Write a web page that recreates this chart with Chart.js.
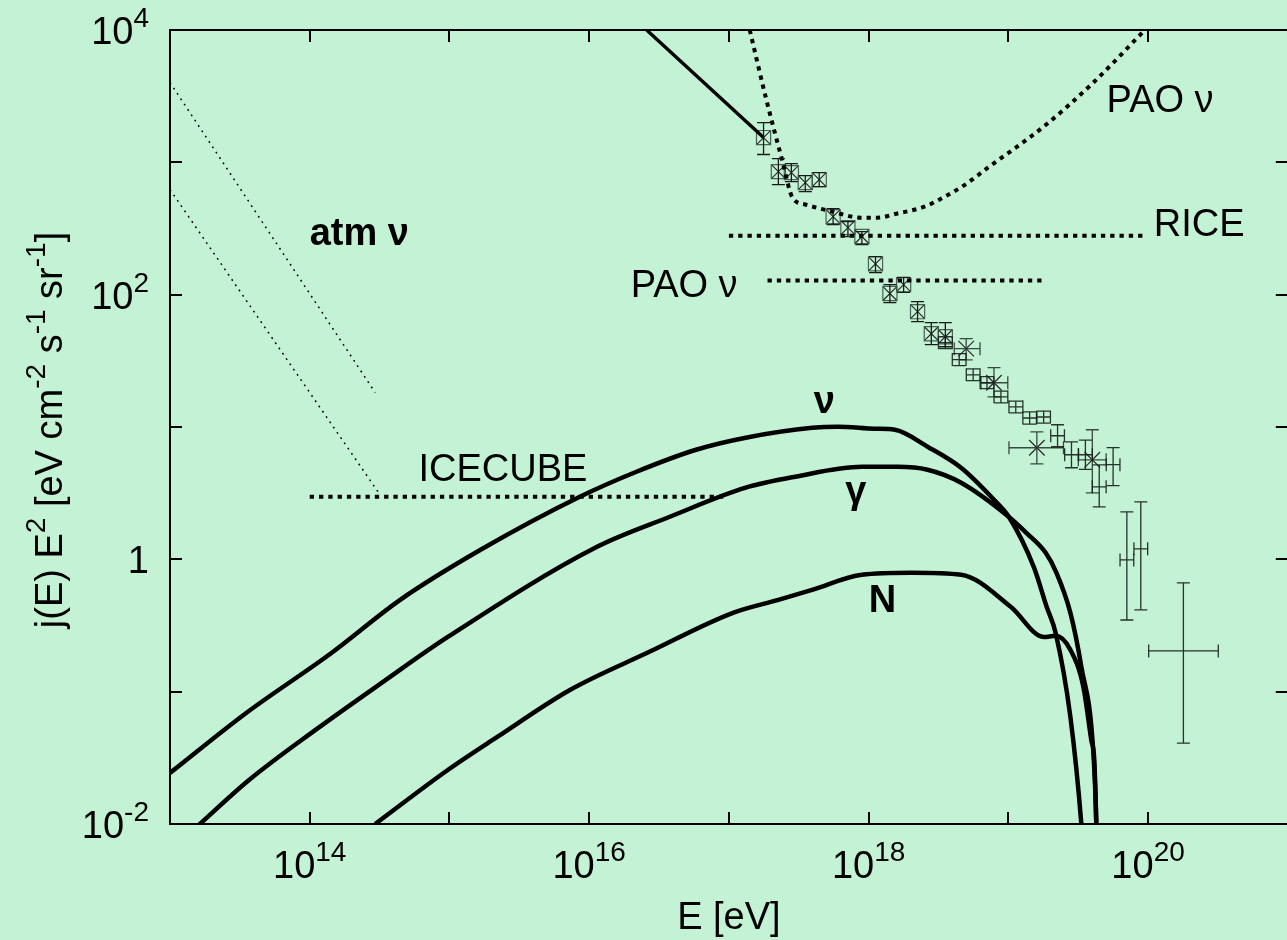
<!DOCTYPE html>
<html>
<head>
<meta charset="utf-8">
<title>E^2 j(E) of secondary neutrinos, photons and nucleons</title>
<script src="https://cdn.jsdelivr.net/npm/chart.js@4.4.1/dist/chart.umd.min.js"></script>
<style>
  html, body { margin: 0; padding: 0; background: #c4f2d4; overflow: hidden; }
  #chart { display: block; width: 1300px; height: 940px; }
</style>
</head>
<body>
<canvas id="chart" width="1300" height="940"></canvas>
<script>
// ---- model spectra (E in eV, E^2 j(E) in eV cm^-2 s^-1 sr^-1) ----
const nuEnergy = [1.00e13, 3.51e13, 1.43e14, 4.44e14, 1.67e15, 8.57e15, 2.18e16, 5.82e16, 1.32e17,
  3.94e17, 6.04e17, 1.11e18, 1.54e18, 2.64e18, 4.59e18, 7.89e18, 1.01e19, 1.52e19, 1.88e19,
  2.18e19, 2.78e19, 3.33e19, 3.50e19];
const nuFlux = [0.0243, 0.0690, 0.196, 0.494, 1.18, 2.97, 4.59, 6.73, 8.30,
  9.86, 10.05, 9.70, 9.53, 7.10, 4.92, 2.82, 2.09, 0.877, 0.438,
  0.278, 0.0644, 0.0100, 0.0045];

const gammaEnergy = [1.60e13, 3.68e13, 1.10e14, 3.25e14, 9.73e14, 1.13e16, 3.74e16, 1.32e17, 2.99e17,
  8.95e17, 1.61e18, 2.64e18, 4.59e18, 1.01e19, 1.35e19, 1.85e19, 2.21e19, 2.78e19, 3.33e19,
  4.06e19, 4.26e19, 4.32e19];
const gammaFlux = [0.0098, 0.0215, 0.0514, 0.116, 0.259, 1.24, 2.09, 3.48, 4.21,
  5.00, 5.00, 4.75, 3.79, 2.09, 1.58, 1.12, 0.791, 0.394, 0.154,
  0.0344, 0.0100, 0.0045];

const nucleonEnergy = [2.94e14, 9.73e14, 2.20e15, 7.28e15, 2.70e16, 1.07e17, 2.26e17, 3.94e17, 8.95e17,
  2.03e18, 4.59e18, 1.04e19, 1.79e19, 2.18e19, 2.78e19, 3.44e19, 3.92e19, 4.12e19, 4.26e19, 4.32e19];
const nucleonFlux = [0.0100, 0.0256, 0.0455, 0.103, 0.200, 0.394, 0.494, 0.588, 0.764,
  0.791, 0.764, 0.438, 0.259, 0.264, 0.207, 0.109, 0.0432, 0.0305, 0.0100, 0.0045];

// cosmic-ray flux continued below the knee region
const crEnergy = [2.0e16, 1.77e17];
const crFlux = [1.28e4, 1540];

// ---- neutrino sensitivities ----
const paoCurveEnergy = [1.41e17, 1.83e17, 2.42e17, 2.85e17, 3.52e17, 5.47e17, 8.81e17, 1.16e18, 1.58e18,
  2.51e18, 3.31e18, 4.91e18, 7.14e18, 1.79e19, 4.06e19, 9.48e19];
const paoCurveFlux = [1.0e4, 3140, 1013, 541, 480, 425, 382, 382, 409,
  462, 532, 679, 912, 1862, 4009, 1.0e4];
const riceEnergy = [1.0e17, 9.6e19];
const riceFlux = [279, 279];
const paoLineEnergy = [1.89e17, 1.79e19];
const paoLineFlux = [128, 128];
const icecubeEnergy = [1.0e14, 9.7e16];
const icecubeFlux = [2.97, 2.97];
const atmHighEnergy = [1.0e13, 2.94e14];
const atmHighFlux = [4009, 18.2];
const atmLowEnergy = [1.0e13, 3.15e14];
const atmLowFlux = [622, 3.13];

// ---- measured cosmic-ray spectrum ----
const boxEnergy = [1.77e17, 2.26e17, 2.80e17, 3.52e17, 4.43e17, 5.57e17, 7.11e17, 8.95e17, 1.12e18,
  1.42e18, 1.78e18, 2.24e18, 2.81e18, 3.54e18];
const boxFlux = [1538, 851, 836, 703, 741, 389, 321, 275, 171, 102, 119, 74.4, 50.7, 48.1];
const boxFluxLo = [1146, 679, 714, 601, 656, 338, 275, 239, 147, 87, 104, 62.5, 41.9, 40.4];
const boxFluxHi = [1995, 1067, 979, 794, 836, 447, 356, 299, 194, 119, 135, 88.5, 61.4, 61.4];

const crossEnergy = [4.99e18, 7.89e18, 1.60e19, 3.99e19];
const crossEnergyLo = [4.10e18, 6.37e18, 1.01e19, 3.17e19];
const crossEnergyHi = [6.27e18, 9.91e18, 2.48e19, 5.01e19];
const crossFlux = [39.1, 21.6, 6.97, 5.65];
const crossFluxLo = [32.2, 16.9, 5.27, 3.18];
const crossFluxHi = [46.5, 28.1, 9.20, 9.53];

const barEnergy = [3.54e18, 4.45e18, 5.60e18, 7.03e18, 8.85e18, 1.13e19, 1.42e19, 1.79e19, 2.25e19,
  2.83e19, 3.56e19, 4.47e19, 5.62e19, 7.05e19, 8.87e19, 1.79e20];
const barEnergyLo = [3.16e18, 3.97e18, 5.00e18, 6.28e18, 7.90e18, 1.01e19, 1.27e19, 1.60e19, 2.01e19,
  2.53e19, 3.18e19, 3.99e19, 5.02e19, 6.30e19, 7.92e19, 1.01e20];
const barEnergyHi = [3.97e18, 4.98e18, 6.27e18, 7.87e18, 9.91e18, 1.27e19, 1.59e19, 2.00e19, 2.52e19,
  3.17e19, 3.99e19, 5.01e19, 6.29e19, 7.90e19, 9.93e19, 3.18e20];
const barFlux = [43.4, 32.3, 24.8, 21.6, 16.9, 14.2, 11.7, 11.9, 8.59, 6.17, 6.17, 3.53, 5.19, 0.99, 1.20, 0.203];
const barFluxLo = [39.1, 29.1, 22.4, 19.5, 15.2, 12.8, 10.5, 10.7, 7.09, 4.92, 4.79, 2.49, 3.60, 0.348, 0.415, 0.0409];
const barFluxHi = [48.1, 35.8, 27.5, 24.0, 18.7, 15.7, 13.0, 13.2, 10.4, 7.73, 7.95, 5.17, 6.99, 2.28, 2.72, 0.663];

// ---- axes ----
const xDecades = [1e13, 1e14, 1e15, 1e16, 1e17, 1e18, 1e19, 1e20, 1e21];
const yDecades = [1e-2, 1e-1, 1, 1e1, 1e2, 1e3, 1e4];
const xTickValues = [1e14, 1e16, 1e18, 1e20];
const xTickLabels = [['10', '14'], ['10', '16'], ['10', '18'], ['10', '20']];
const yTickValues = [1e4, 1e2, 1, 1e-2];
const yTickLabels = [['10', '4'], ['10', '2'], ['1', ''], ['10', '-2']];

// ---- text placed in the plot (anchored at E, flux of its left baseline) ----
const plotLabels = [
  { text: 'atm ν', E: 1.00e14, flux: 239, bold: true },
  { text: 'ICECUBE', E: 6.0e14, flux: 3.93, bold: false },
  { text: 'RICE', E: 1.10e20, flux: 279, bold: false },
  { text: 'PAO ν', E: 5.05e19, flux: 2421, bold: false },
  { text: 'PAO ν', E: 1.98e16, flux: 96.6, bold: false },
  { text: 'ν', E: 4.05e17, flux: 12.8, bold: true },
  { text: 'γ', E: 6.8e17, flux: 2.67, bold: true },
  { text: 'N', E: 1.0e18, flux: 0.401, bold: true }
];

const FONT = '"Liberation Sans", Arial, Helvetica, sans-serif';
const pts = (xs, ys) => xs.map((x, i) => ({ x, y: ys[i] }));

function lineSet(xs, ys, width, dash, smooth) {
  return {
    data: pts(xs, ys), showLine: true, borderColor: '#000', borderWidth: width,
    borderDash: dash || [], borderCapStyle: 'butt', borderJoinStyle: 'round',
    pointRadius: 0, fill: false, clip: 0,
    cubicInterpolationMode: smooth ? 'monotone' : 'default', tension: smooth ? 0.4 : 0
  };
}
const dotted = [4.3, 5];
const fine = [1.8, 4.6];

const datasets = [
  lineSet(nuEnergy, nuFlux, 4.5, null, true),
  lineSet(gammaEnergy, gammaFlux, 4.5, null, true),
  lineSet(nucleonEnergy, nucleonFlux, 4.5, null, true),
  lineSet(crEnergy, crFlux, 3.4),
  lineSet(paoCurveEnergy, paoCurveFlux, 4, dotted, true),
  lineSet(riceEnergy, riceFlux, 4, dotted),
  lineSet(paoLineEnergy, paoLineFlux, 4, dotted),
  lineSet(icecubeEnergy, icecubeFlux, 4, dotted),
  lineSet(atmHighEnergy, atmHighFlux, 1.5, fine),
  lineSet(atmLowEnergy, atmLowFlux, 1.5, fine),
  {
    data: pts(boxEnergy, boxFlux), showLine: false, pointStyle: 'rect', pointRadius: 10,
    pointBorderWidth: 1.2, pointBorderColor: 'rgba(60,80,70,0.9)', pointBackgroundColor: 'rgba(0,0,0,0)',
    yLo: boxFluxLo, yHi: boxFluxHi, errColor: '#1a1a1a'
  },
  {
    data: pts(boxEnergy, boxFlux), showLine: false, pointStyle: 'crossRot', pointRadius: 9.5,
    pointBorderWidth: 1.1, pointBorderColor: '#222', pointBackgroundColor: 'rgba(0,0,0,0)'
  },
  {
    data: pts(crossEnergy, crossFlux), showLine: false, pointStyle: 'crossRot', pointRadius: 11,
    pointBorderWidth: 1.2, pointBorderColor: '#2a2a2a', pointBackgroundColor: 'rgba(0,0,0,0)',
    yLo: crossFluxLo, yHi: crossFluxHi, xLo: crossEnergyLo, xHi: crossEnergyHi, errColor: 'rgba(40,55,48,0.9)'
  },
  {
    data: pts(barEnergy, barFlux), showLine: false, pointRadius: 0,
    yLo: barFluxLo, yHi: barFluxHi, xLo: barEnergyLo, xHi: barEnergyHi, errColor: 'rgba(20,30,25,0.9)'
  }
];

// error bars with end caps, positioned through the chart scales
const errorBars = {
  id: 'errorBars',
  afterDatasetsDraw(chart) {
    const ctx = chart.ctx, xs = chart.scales.x, ys = chart.scales.y, cap = 6.5;
    const a = chart.chartArea;
    ctx.save();
    ctx.beginPath(); ctx.rect(a.left, a.top, a.right - a.left, a.bottom - a.top); ctx.clip();
    chart.data.datasets.forEach(ds => {
      if (!ds.yLo) return;
      ctx.strokeStyle = ds.errColor || '#000';
      ctx.lineWidth = 1.3;
      ds.data.forEach((p, i) => {
        const px = xs.getPixelForValue(p.x), py = ys.getPixelForValue(p.y);
        const y1 = ys.getPixelForValue(ds.yLo[i]), y2 = ys.getPixelForValue(ds.yHi[i]);
        ctx.beginPath();
        ctx.moveTo(px, y1); ctx.lineTo(px, y2);
        ctx.moveTo(px - cap, y1); ctx.lineTo(px + cap, y1);
        ctx.moveTo(px - cap, y2); ctx.lineTo(px + cap, y2);
        if (ds.xLo) {
          const x1 = xs.getPixelForValue(ds.xLo[i]), x2 = xs.getPixelForValue(ds.xHi[i]);
          ctx.moveTo(x1, py); ctx.lineTo(x2, py);
          ctx.moveTo(x1, py - cap); ctx.lineTo(x1, py + cap);
          ctx.moveTo(x2, py - cap); ctx.lineTo(x2, py + cap);
        }
        ctx.stroke();
      });
    });
    ctx.restore();
  }
};

// powers of ten, axis titles and in-plot captions
const MAIN = 38, SUP = 28, RAISE = 17;
function runWidth(ctx, parts) {
  let w = 0;
  parts.forEach(([t, sup]) => { ctx.font = `${sup ? SUP : MAIN}px ${FONT}`; w += ctx.measureText(t).width; });
  return w;
}
function drawRun(ctx, parts, x, y) {
  parts.forEach(([t, sup]) => {
    ctx.font = `${sup ? SUP : MAIN}px ${FONT}`;
    ctx.fillText(t, x, sup ? y - RAISE : y);
    x += ctx.measureText(t).width;
  });
}
const textLayer = {
  id: 'textLayer',
  afterDraw(chart) {
    const ctx = chart.ctx, xs = chart.scales.x, ys = chart.scales.y;
    ctx.save();
    ctx.fillStyle = '#000';
    ctx.textAlign = 'left';
    ctx.textBaseline = 'alphabetic';
    // x tick labels
    xTickValues.forEach((v, i) => {
      const parts = [[xTickLabels[i][0], 0], [xTickLabels[i][1], 1]];
      const w = runWidth(ctx, parts);
      drawRun(ctx, parts, xs.getPixelForValue(v) - w / 2, 878);
    });
    // y tick labels
    yTickValues.forEach((v, i) => {
      const parts = [[yTickLabels[i][0], 0]];
      if (yTickLabels[i][1]) parts.push([yTickLabels[i][1], 1]);
      const w = runWidth(ctx, parts);
      drawRun(ctx, parts, 149 - w, ys.getPixelForValue(v) + 14);
    });
    // axis titles
    const xt = [['E [eV]', 0]];
    drawRun(ctx, xt, (chart.chartArea.left + chart.chartArea.right) / 2 - runWidth(ctx, xt) / 2, 929);
    const yt = [['j(E) E', 0], ['2', 1], [' [eV cm', 0], ['-2', 1], [' s', 0], ['-1', 1], [' sr', 0], ['-1', 1], [']', 0]];
    ctx.save();
    ctx.translate(62, (chart.chartArea.top + chart.chartArea.bottom) / 2 + 3);
    ctx.rotate(-Math.PI / 2);
    drawRun(ctx, yt, -runWidth(ctx, yt) / 2, 0);
    ctx.restore();
    // captions inside the frame
    plotLabels.forEach(l => {
      ctx.font = `${l.bold ? 'bold ' : ''}${MAIN}px ${FONT}`;
      ctx.fillText(l.text, xs.getPixelForValue(l.E), ys.getPixelForValue(l.flux));
    });
    ctx.restore();
  }
};

function axis(position, min, max, decades, fit) {
  return {
    type: 'logarithmic', position, min, max, display: true,
    afterBuildTicks: s => { s.ticks = decades.map(v => ({ value: v })); },
    afterFit: fit,
    ticks: { display: false },
    grid: { drawOnChartArea: false, drawTicks: true, tickLength: -12, tickWidth: 2, tickColor: '#000', color: '#000', lineWidth: 2 },
    border: { display: true, color: '#000', width: 2 },
    title: { display: false }
  };
}

Chart.defaults.font.family = FONT;
new Chart(document.getElementById('chart'), {
  type: 'scatter',
  data: { datasets },
  options: {
    responsive: false,
    animation: false,
    events: [],
    layout: { padding: 0 },
    plugins: { legend: { display: false }, tooltip: { enabled: false } },
    scales: {
      x: Object.assign(axis('bottom', 1e13, 1e21, xDecades, s => { s.height = 116; }), { axis: 'x' }),
      x2: Object.assign(axis('top', 1e13, 1e21, xDecades, s => { s.height = 30; }), { axis: 'x' }),
      y: Object.assign(axis('left', 1e-2, 1e4, yDecades, s => { s.width = 170; }), { axis: 'y' }),
      y2: Object.assign(axis('right', 1e-2, 1e4, yDecades, s => { s.width = 5; }), { axis: 'y' })
    }
  },
  plugins: [errorBars, textLayer]
});
</script>
</body>
</html>
